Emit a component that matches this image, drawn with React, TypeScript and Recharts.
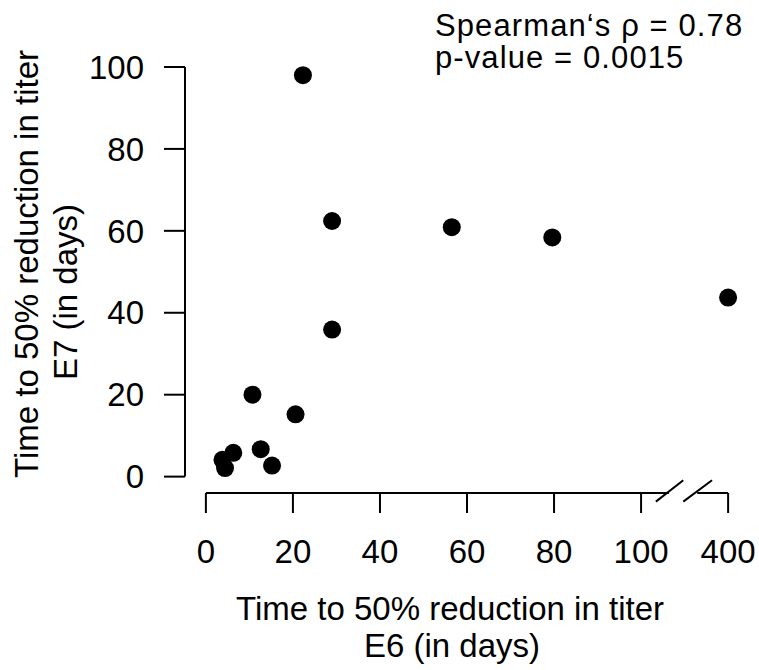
import React from 'react';
import { ScatterChart, Scatter, XAxis, YAxis, ReferenceLine } from 'recharts';

// E6 and E7 time-to-50%-reduction values (days)
const e6Days = [22.3, 29.0, 56.5, 79.6, 400, 29.0, 10.7, 20.6, 12.6, 15.2, 6.3, 3.8, 4.4];
const e7Days = [98.0, 62.4, 60.9, 58.4, 43.7, 35.9, 20.0, 15.2, 6.7, 2.7, 5.8, 4.1, 2.1];
const xTickLabels = [0, 20, 40, 60, 80, 100, 400];
const yTickLabels = [0, 20, 40, 60, 80, 100];
const statLines = ['Spearman\u2018s \u03c1 = 0.78', 'p-value = 0.0015'];
const xTitle = ['Time to 50% reduction in titer', 'E6 (in days)'];
const yTitle = ['Time to 50% reduction in titer', 'E7 (in days)'];

// broken x axis: values above BREAK are compressed
const BREAK = 100;
const BROKEN_MAX = 400;
const BROKEN_POS = 120;
const toAxis = (v: number) =>
  v <= BREAK ? v : BREAK + ((v - BREAK) * (BROKEN_POS - BREAK)) / (BROKEN_MAX - BREAK);

const data = e6Days.map((x, i) => ({ x: toAxis(x), y: e7Days[i], raw: x }));
const xTickPos = xTickLabels.map(toAxis);

const FONT = '"Liberation Sans", Arial, Helvetica, sans-serif';
const FS = 33;

const X_DOMAIN: [number, number] = [-4.8, 124.8];
const Y_DOMAIN: [number, number] = [-4, 104];

const W = 759;
const H = 670;

const Dot = (props: any) => <circle cx={props.cx} cy={props.cy} r={9} fill="#000" />;

export default function App() {
  const tickStyle = { fontSize: FS, fontFamily: FONT, fill: '#000' };
  return (
    <div style={{ position: 'absolute', left: 0, top: 0, width: W, height: H, overflow: 'hidden' }}>
      <ScatterChart
        width={W}
        height={H}
        margin={{ top: 50.6, right: 10, bottom: 117, left: 0 }}
      >
        <XAxis
          type="number"
          dataKey="x"
          domain={X_DOMAIN}
          ticks={xTickPos}
          interval={0}
          allowDataOverflow
          height={60}
          axisLine={false}
          tickSize={20}
          tickMargin={27}
          tickLine={{ stroke: '#000', strokeWidth: 2 }}
          tick={tickStyle}
          tickFormatter={(v: number) => String(xTickLabels[xTickPos.indexOf(v)])}
        />
        <YAxis
          type="number"
          dataKey="y"
          domain={Y_DOMAIN}
          ticks={yTickLabels}
          interval={0}
          allowDataOverflow
          width={185}
          axisLine={false}
          tickSize={21}
          tickMargin={20}
          tickLine={{ stroke: '#000', strokeWidth: 2 }}
          tick={tickStyle}
        />
        <ReferenceLine
          segment={[{ x: X_DOMAIN[0], y: 0 }, { x: X_DOMAIN[0], y: 100 }]}
          stroke="#000"
          strokeWidth={2}
          ifOverflow="visible"
        />
        <ReferenceLine
          segment={[{ x: 0, y: Y_DOMAIN[0] }, { x: 106.4, y: Y_DOMAIN[0] }]}
          stroke="#000"
          strokeWidth={2}
          ifOverflow="visible"
        />
        <ReferenceLine
          segment={[{ x: 112.9, y: Y_DOMAIN[0] }, { x: BROKEN_POS, y: Y_DOMAIN[0] }]}
          stroke="#000"
          strokeWidth={2}
          ifOverflow="visible"
        />
        <ReferenceLine
          segment={[{ x: 103.4, y: -6.1 }, { x: 109.7, y: -0.9 }]}
          stroke="#000"
          strokeWidth={2}
          ifOverflow="visible"
        />
        <ReferenceLine
          segment={[{ x: 109.7, y: -6.1 }, { x: 116.3, y: -0.9 }]}
          stroke="#000"
          strokeWidth={2}
          ifOverflow="visible"
        />
        <Scatter data={data} shape={<Dot />} isAnimationActive={false} />
      </ScatterChart>
      <svg
        width={W}
        height={H}
        style={{ position: 'absolute', left: 0, top: 0, pointerEvents: 'none' }}
      >
        <g fontFamily={FONT} fill="#000">
          <text x={435} y={36} fontSize={31} letterSpacing={1.1}>{statLines[0]}</text>
          <text x={435} y={68} fontSize={31} letterSpacing={1.1}>{statLines[1]}</text>
          <g fontSize={FS}>
            <text x={450} y={620} textAnchor="middle">{xTitle[0]}</text>
            <text x={452} y={657} textAnchor="middle">{xTitle[1]}</text>
            <text x={38} y={264} textAnchor="middle" transform="rotate(-90 38 264)">{yTitle[0]}</text>
            <text x={77} y={292} textAnchor="middle" transform="rotate(-90 77 292)">{yTitle[1]}</text>
          </g>
        </g>
      </svg>
    </div>
  );
}
